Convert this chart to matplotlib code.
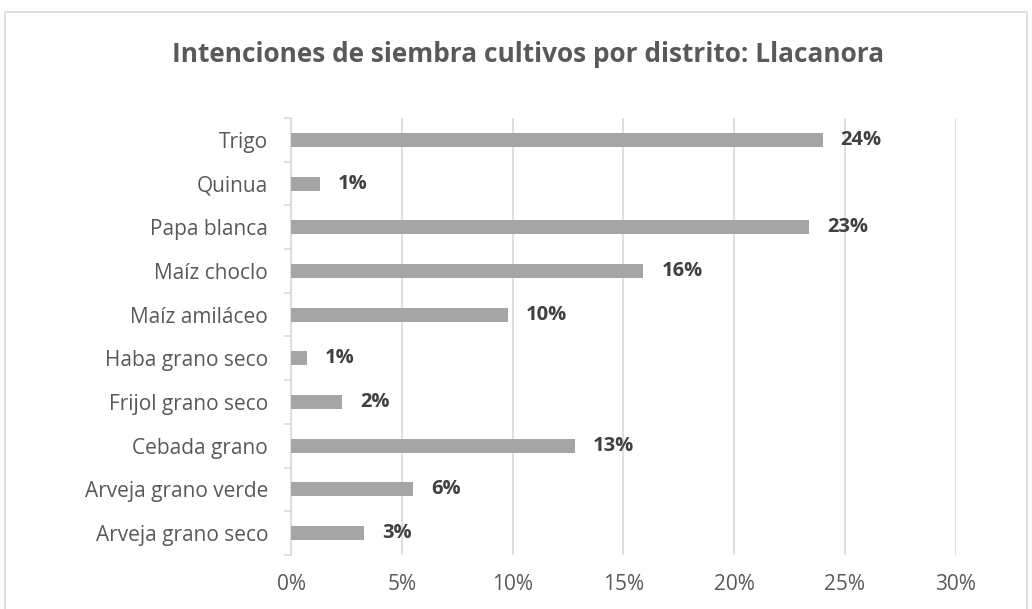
import matplotlib
matplotlib.use("Agg")
import matplotlib.pyplot as plt
from matplotlib.patches import Rectangle
from matplotlib.ticker import FuncFormatter, MultipleLocator

# crops from bottom to top of the chart
cultivos = ["Arveja grano seco", "Arveja grano verde", "Cebada grano",
            "Frijol grano seco", "Haba grano seco", "Maíz amiláceo",
            "Maíz choclo", "Papa blanca", "Quinua", "Trigo"]
porcentaje = [3.3, 5.5, 12.8, 2.3, 0.7, 9.8, 15.9, 23.4, 1.3, 24.0]
xticks = [0, 5, 10, 15, 20, 25, 30]

plt.rcParams['font.family'] = ['Open Sans', 'DejaVu Sans']

fig = plt.figure(figsize=(10.32, 6.09), dpi=100)
ax = fig.add_axes([0.282, 0.0887, 0.644, 0.7176])

# outer chart frame
fig.patches.append(Rectangle((5 / 1032, -0.05), 1022 / 1032, 1 - 12 / 609 + 0.05,
                             transform=fig.transFigure, fill=False,
                             edgecolor='#d9d9d9', linewidth=1.2))

pos = range(len(cultivos))
bars = ax.barh(pos, porcentaje, height=0.32, color='#a5a5a5', zorder=3)

for b, v in zip(bars, porcentaje):
    ax.annotate(f"{v:.0f}%", (b.get_width(), b.get_y() + b.get_height() / 2),
                xytext=(13, 0), textcoords='offset points', va='center', ha='left',
                fontsize=14.5, fontweight='bold', color='#404040')

ax.set_xlim(0, 30)
ax.set_ylim(-0.5, len(cultivos) - 0.5)
ax.set_xticks(xticks)
ax.xaxis.set_major_formatter(FuncFormatter(lambda x, p: f"{x:.0f}%"))
ax.set_yticks(list(pos))
ax.set_yticklabels(cultivos)
ax.yaxis.set_minor_locator(MultipleLocator(1, offset=0.5))

ax.grid(axis='x', color='#d9d9d9', linewidth=1.2, zorder=0)
for s in ['top', 'right', 'bottom']:
    ax.spines[s].set_visible(False)
ax.spines['left'].set_color('#d9d9d9')
ax.spines['left'].set_linewidth(1.2)

ax.tick_params(axis='x', length=0, labelsize=15, labelcolor='#595959', pad=14)
ax.tick_params(axis='y', which='major', length=0, labelsize=15, labelcolor='#595959', pad=16.5)
ax.tick_params(axis='y', which='minor', length=5, color='#d9d9d9', width=1.2)

fig.text(528 / 1032, 1 - 55 / 609, "Intenciones de siembra cultivos por distrito: Llacanora",
         ha='center', va='center', fontsize=18.9, fontweight='bold', color='#595959')

fig.savefig("out.png", dpi=100)
